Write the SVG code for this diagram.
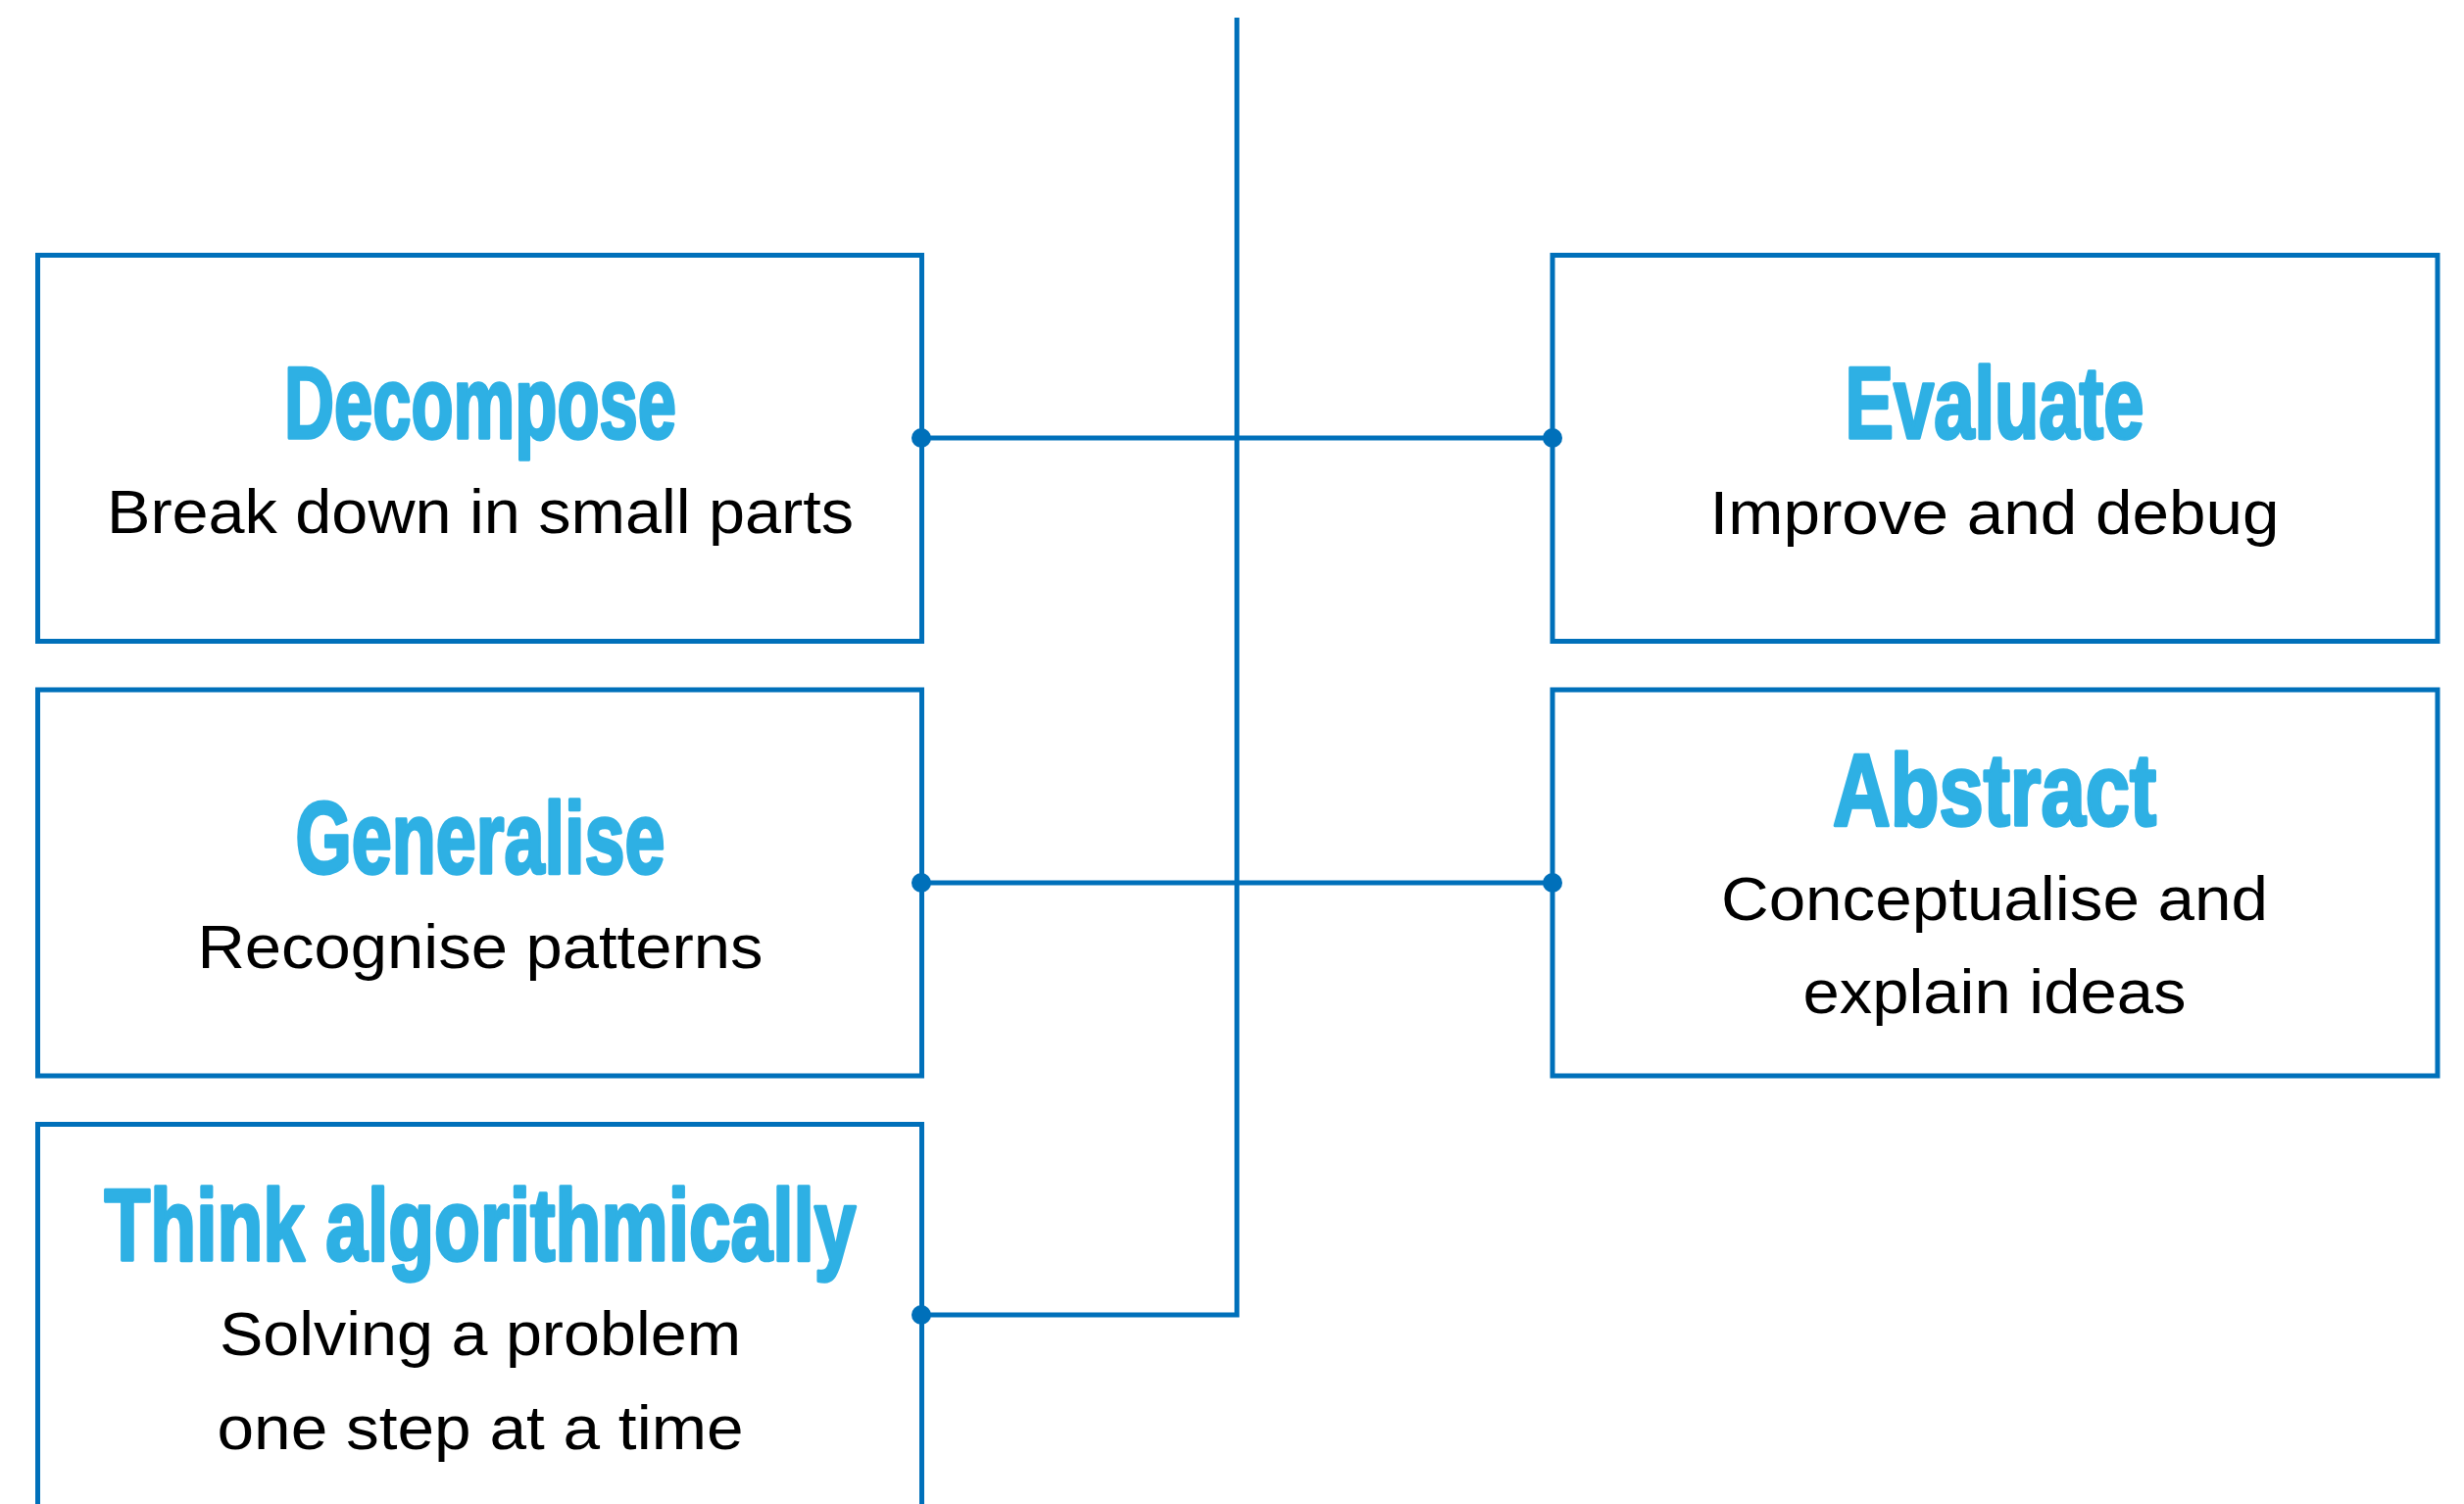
<svg xmlns="http://www.w3.org/2000/svg" width="2514" height="1535" viewBox="0 0 2514 1535">
<style>
.box{fill:#fff;stroke:#0070BA;stroke-width:5}
.wire{fill:none;stroke:#0070BA;stroke-width:5}
.dot{fill:#0070BA}
.title{font-family:"Liberation Sans Narrow","Liberation Sans",sans-serif;font-weight:bold;font-size:104px;fill:#2EB0E4;stroke:#2EB0E4;stroke-width:3.5;stroke-linejoin:round;text-anchor:middle}
.sub{font-family:"Liberation Sans",Arial,sans-serif;font-size:63px;fill:#000;text-anchor:middle}
</style>
<rect width="2514" height="1535" fill="#fff"/>
<g id="connectors">
<path class="wire" d="M940,447 H1584"/>
<path class="wire" d="M940,901 H1584"/>
<path class="wire" d="M940,1342 H1262 V18"/>
</g>
<g id="decompose">
<rect class="box" x="38.5" y="260.5" width="902" height="394"/>
<text class="title" x="490" y="447" textLength="400" lengthAdjust="spacingAndGlyphs">Decompose</text>
<text class="sub" x="490" y="544" textLength="762" lengthAdjust="spacingAndGlyphs">Break down in small parts</text>
</g>
<g id="generalise">
<rect class="box" x="38.5" y="704" width="902" height="394"/>
<text class="title" x="490" y="891" textLength="377" lengthAdjust="spacingAndGlyphs">Generalise</text>
<text class="sub" x="490" y="988" textLength="577" lengthAdjust="spacingAndGlyphs">Recognise patterns</text>
</g>
<g id="think">
<path class="box" d="M38.5,1545 V1147.5 H940.5 V1545"/>
<text class="title" x="490" y="1286" textLength="767" lengthAdjust="spacingAndGlyphs">Think algorithmically</text>
<text class="sub" x="490" y="1383" textLength="532" lengthAdjust="spacingAndGlyphs">Solving a problem</text>
<text class="sub" x="490" y="1479" textLength="537" lengthAdjust="spacingAndGlyphs">one step at a time</text>
</g>
<g id="evaluate">
<rect class="box" x="1584" y="260.5" width="903" height="394"/>
<text class="title" x="2035" y="447" textLength="305" lengthAdjust="spacingAndGlyphs">Evaluate</text>
<text class="sub" x="2035" y="545" textLength="581" lengthAdjust="spacingAndGlyphs">Improve and debug</text>
</g>
<g id="abstract">
<rect class="box" x="1584" y="704" width="903" height="394"/>
<text class="title" x="2035" y="842" textLength="330" lengthAdjust="spacingAndGlyphs">Abstract</text>
<text class="sub" x="2035" y="939" textLength="558" lengthAdjust="spacingAndGlyphs">Conceptualise and</text>
<text class="sub" x="2035" y="1034" textLength="391" lengthAdjust="spacingAndGlyphs">explain ideas</text>
</g>
<g id="dots">
<circle class="dot" cx="940" cy="447" r="10"/>
<circle class="dot" cx="1584" cy="447" r="10"/>
<circle class="dot" cx="940" cy="901" r="10"/>
<circle class="dot" cx="1584" cy="901" r="10"/>
<circle class="dot" cx="940" cy="1342" r="10"/>
</g>
</svg>
